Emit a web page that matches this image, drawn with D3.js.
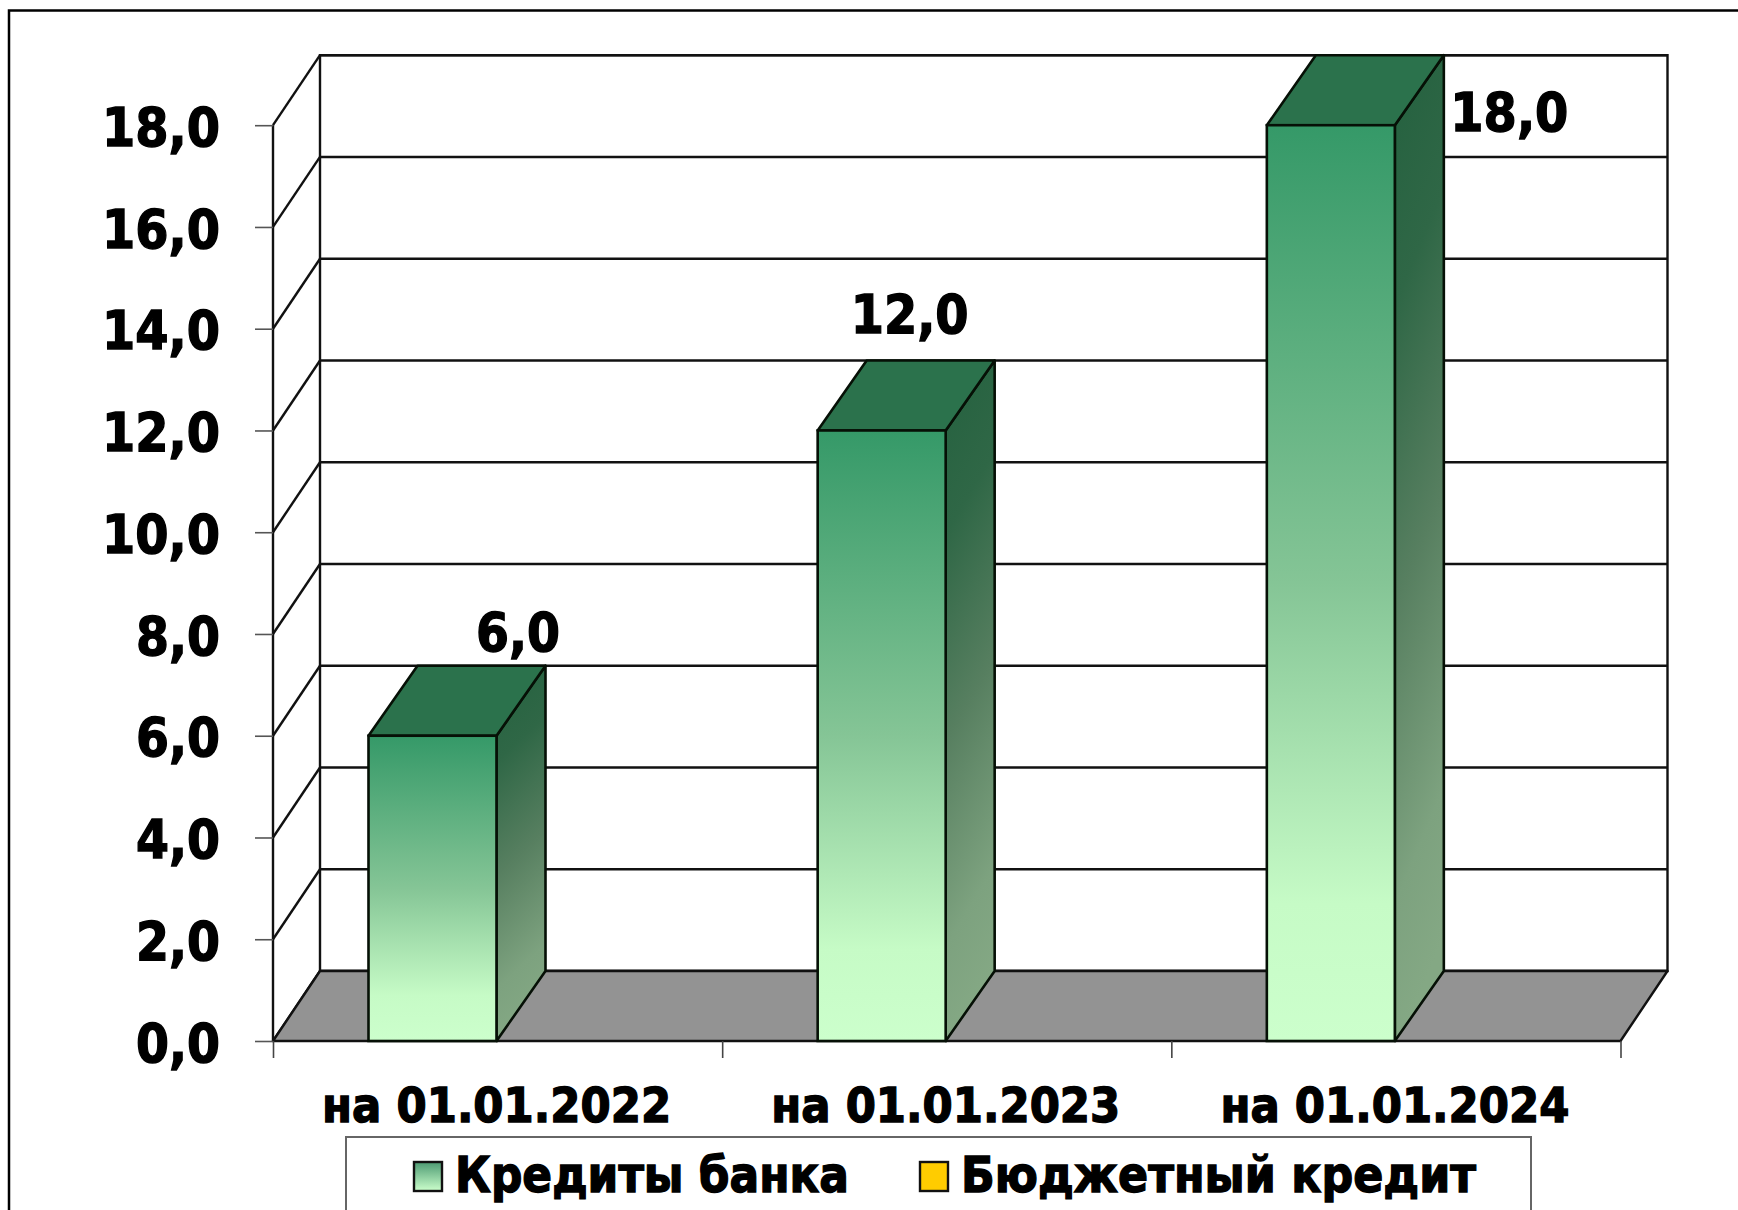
<!DOCTYPE html>
<html><head><meta charset="utf-8">
<script src="https://cdn.jsdelivr.net/npm/d3@7"></script>
<style>html,body{margin:0;padding:0;background:#fff}svg{display:block}
text{font-family:"DejaVu Sans";font-weight:700;fill:#000;stroke:#000;stroke-width:1.4px}</style>
</head><body><svg id="c" width="1738" height="1210"></svg>
<script>
const categories = ["на 01.01.2022","на 01.01.2023","на 01.01.2024"];
const seriesBank = [6,12,18];
const yTicks = [0,2,4,6,8,10,12,14,16,18];
const legendNames = ["Кредиты банка","Бюджетный кредит"];
const labelOffsetX = [85.5,28,178.5];
const labelOffsetY = [-85,-97,6];

const W=1738,H=1210;
const dx=47, dy=70, barDx=49;
const x0=273,x1=1620.5;
const y=d3.scaleLinear().domain([0,18]).range([1041,125.2]);
const xB=d3.scaleBand().domain(categories).range([x0,x1]);
const xT=d3.scaleLinear().domain([0,3]).range([x0,x1]);
const barOff=95.5, barW=128;
const fmt=d=>d3.format(".1f")(d).replace(".",",");
const lenOf=s=>s.length>3?118:84;
const svg=d3.select("#c");
const defs=svg.append("defs");
function grad(id,stops,x2,y2){const g=defs.append("linearGradient").attr("id",id).attr("x1",0).attr("y1",0).attr("x2",x2).attr("y2",y2);
 stops.forEach(s=>g.append("stop").attr("offset",s[0]).attr("stop-color",s[1]));}
grad("front",[[0,"#359968"],[.5,"#85c596"],[.85,"#c6fbc6"],[1,"#ccffcc"]],0,1);
grad("side",[[0,"#24613f"],[.25,"#2f6746"],[.55,"#577f60"],[.85,"#7da27f"],[1,"#84a884"]],0.12,1);
grad("swatch",[[0,"#4c9a72"],[1,"#ccffcc"]],0,1);

svg.append("rect").attr("width",W).attr("height",H).attr("fill","#fff");
svg.append("path").attr("d",`M9,${H}V10.5H${W}`).attr("fill","none").attr("stroke","#000").attr("stroke-width",2.5);

const LW="#111", SW=2.4;
const back=svg.append("g");
back.append("rect").attr("x",x0+dx).attr("y",y(18)-dy).attr("width",x1-x0).attr("height",y(0)-y(18))
 .attr("fill","#fff").attr("stroke",LW).attr("stroke-width",SW);
back.selectAll("line.grid").data(yTicks).join("line").attr("class","grid")
 .attr("x1",x0+dx).attr("x2",x1+dx).attr("y1",d=>y(d)-dy).attr("y2",d=>y(d)-dy).attr("stroke",LW).attr("stroke-width",SW);
back.selectAll("line.slant").data(yTicks).join("line").attr("class","slant")
 .attr("x1",x0).attr("x2",x0+dx).attr("y1",d=>y(d)).attr("y2",d=>y(d)-dy).attr("stroke",LW).attr("stroke-width",SW);
back.append("line").attr("x1",x0).attr("x2",x0).attr("y1",y(18)).attr("y2",y(0)).attr("stroke",LW).attr("stroke-width",SW);
svg.append("path").attr("d",`M${x0},${y(0)}L${x0+dx},${y(0)-dy}H${x1+dx}L${x1},${y(0)}Z`)
 .attr("fill","#939393").attr("stroke",LW).attr("stroke-width",SW).attr("stroke-linejoin","round");

const yAxis=svg.append("g").attr("transform",`translate(${x0},0)`).call(d3.axisLeft(y).tickValues(yTicks).tickFormat(fmt).tickSize(18).tickPadding(35));
yAxis.select(".domain").remove();
yAxis.selectAll("line").attr("stroke","#555").attr("stroke-width",1.6);
yAxis.selectAll("text").attr("font-size",53).attr("dy","0.38em").attr("textLength",function(){return lenOf(this.textContent);}).attr("lengthAdjust","spacingAndGlyphs");
const xTicks=svg.append("g").attr("transform",`translate(0,${y(0)})`).call(d3.axisBottom(xT).tickValues([0,1,2,3]).tickFormat("").tickSize(17));
xTicks.select(".domain").remove();
xTicks.selectAll("line").attr("stroke","#444").attr("stroke-width",1.6);
const xAxis=svg.append("g").attr("transform",`translate(0,${y(0)})`).call(d3.axisBottom(xB).tickSize(0).tickPadding(46));
xAxis.select(".domain").remove();
xAxis.selectAll("text").attr("font-size",48).attr("dy","0").attr("textLength",349).attr("lengthAdjust","spacingAndGlyphs")
 .attr("y",81).attr("dx",-1);

const bars=svg.selectAll("g.bar").data(seriesBank).join("g").attr("class","bar");
const bx=(d,i)=>xB(categories[i])+barOff;
const barStroke="#061006", barSW=2.6;
bars.append("path").attr("d",(d,i)=>{const a=bx(d,i)+barW;return `M${a},${y(d)}L${a+barDx},${y(d)-dy}V${y(0)-dy}L${a},${y(0)}Z`;})
 .attr("fill","url(#side)").attr("stroke",barStroke).attr("stroke-width",barSW).attr("stroke-linejoin","round");
bars.append("path").attr("d",(d,i)=>{const a=bx(d,i);return `M${a},${y(d)}L${a+barDx},${y(d)-dy}H${a+barDx+barW}L${a+barW},${y(d)}Z`;})
 .attr("fill","#2b724c").attr("stroke",barStroke).attr("stroke-width",barSW).attr("stroke-linejoin","round");
bars.append("rect").attr("x",bx).attr("y",d=>y(d)).attr("width",barW).attr("height",d=>y(0)-y(d))
 .attr("fill","url(#front)").attr("stroke",barStroke).attr("stroke-width",barSW);
bars.append("text").text(d=>fmt(d)).attr("font-size",53).attr("text-anchor","middle")
 .attr("x",(d,i)=>bx(d,i)+barW/2+labelOffsetX[i]).attr("y",(d,i)=>y(d)+labelOffsetY[i])
 .attr("textLength",d=>lenOf(fmt(d))).attr("lengthAdjust","spacingAndGlyphs");

svg.append("rect").attr("x",346).attr("y",1137).attr("width",1185).attr("height",100).attr("fill","#fff").attr("stroke","#666").attr("stroke-width",2);
const legend=[{n:legendNames[0],f:"url(#swatch)",sx:414,tx:455,tl:394},{n:legendNames[1],f:"#ffcc00",sx:920,tx:961,tl:515}];
const lg=svg.selectAll("g.lg").data(legend).join("g").attr("class","lg");
lg.append("rect").attr("x",d=>d.sx).attr("y",1162).attr("width",28).attr("height",29).attr("fill",d=>d.f).attr("stroke","#111").attr("stroke-width",2.4);
lg.append("text").text(d=>d.n).attr("x",d=>d.tx).attr("y",1192).attr("font-size",49).attr("textLength",d=>d.tl).attr("lengthAdjust","spacingAndGlyphs");
</script></body></html>
